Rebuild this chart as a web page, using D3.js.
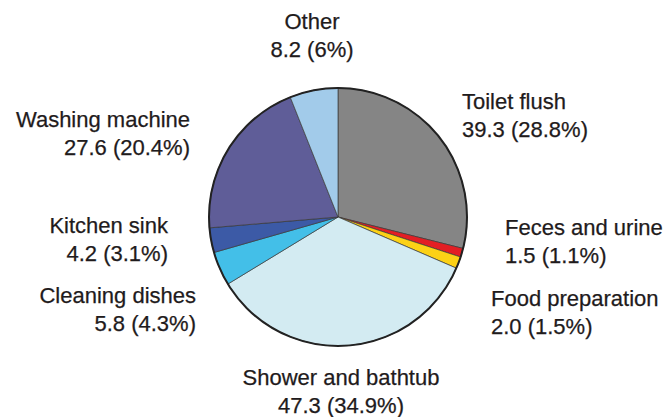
<!DOCTYPE html>
<html>
<head>
<meta charset="utf-8">
<script src="https://cdn.jsdelivr.net/npm/d3@7"></script>
<style>
  html, body { margin: 0; padding: 0; background: #fff; }
  svg { display: block; }
  text { font-family: "Liberation Sans", Arial, sans-serif; font-size: 22px; fill: #1f1b1c; stroke: #1f1b1c; stroke-width: 0.25px; }
</style>
</head>
<body>
<svg id="chart" width="667" height="417"></svg>
<script>
const categories = ["Toilet flush", "Feces and urine", "Food preparation", "Shower and bathtub",
                    "Cleaning dishes", "Kitchen sink", "Washing machine", "Other"];
const values = [39.3, 1.5, 2.0, 47.3, 5.8, 4.2, 27.6, 8.2];
const percents = ["28.8%", "1.1%", "1.5%", "34.9%", "4.3%", "3.1%", "20.4%", "6%"];
const colors = ["#858585", "#e31e24", "#fcd116", "#d3ebf2", "#43bfe8", "#3c5aa6", "#5f5d98", "#a2cbea"];

// label layout: [x, y of first line, anchor]
const labelPos = [
  [462, 109, "start"],
  [505, 235, "start"],
  [491, 306, "start"],
  [341, 385, "middle"],
  [196, 303, "end"],
  [168, 233, "end"],
  [190, 127, "end"],
  [312, 29, "middle"]
];

const svg = d3.select("#chart");
const cx = 338, cy = 217, r = 129;

const data = categories.map((c, i) => ({ name: c, value: values[i], pct: percents[i], color: colors[i], pos: labelPos[i] }));

const pie = d3.pie().sort(null).value(d => d.value);
const arc = d3.arc().innerRadius(0).outerRadius(r);

const g = svg.append("g").attr("transform", `translate(${cx},${cy})`);
g.selectAll("path.slice")
  .data(pie(data))
  .join("path")
  .attr("class", "slice")
  .attr("d", arc)
  .attr("fill", d => d.data.color)
  .attr("stroke", "#3a3a3a")
  .attr("stroke-width", 0.7)
  .attr("stroke-linejoin", "round");

g.append("circle")
  .attr("r", r)
  .attr("fill", "none")
  .attr("stroke", "#222")
  .attr("stroke-width", 2);

const lg = svg.append("g");
data.forEach(d => {
  const t = lg.append("text")
    .attr("x", d.pos[0])
    .attr("y", d.pos[1])
    .attr("text-anchor", d.pos[2]);
  t.append("tspan").attr("x", d.pos[0]).text(d.name);
  t.append("tspan").attr("x", d.pos[0]).attr("dy", 28).text(`${d.value.toFixed(1)} (${d.pct})`);
});
</script>
</body>
</html>
